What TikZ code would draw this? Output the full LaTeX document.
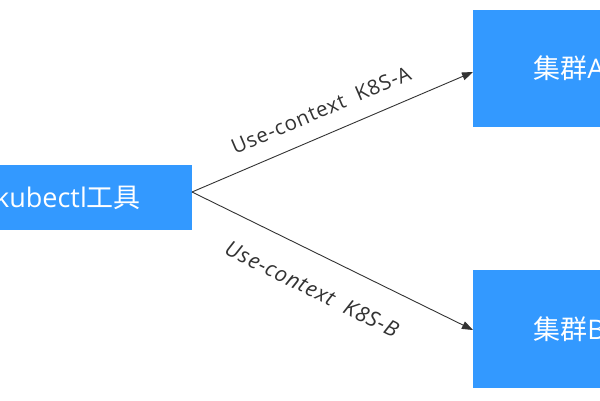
\documentclass[tikz,border=0pt]{standalone}
\usepackage{fontspec}
\setmainfont{Open Sans}
\newfontfamily\cjk{Noto Sans CJK SC}
\newfontfamily\lblfont[LetterSpace=4]{Open Sans}
\usetikzlibrary{arrows.meta}
\definecolor{boxblue}{RGB}{51,153,255}
\definecolor{ink}{RGB}{51,51,51}
\tikzset{
  bluebox/.style={fill=boxblue, draw=none, text=white, font=\fontsize{27}{31}\selectfont, inner sep=0pt},
  conn/.style={draw=ink, line width=0.9pt, -{Triangle[length=11pt,width=8pt]}},
  lbl/.style={text=ink, font=\lblfont\fontsize{20.5}{24}\selectfont, inner sep=0pt}
}
\begin{document}
\begin{tikzpicture}[x=1pt,y=-1pt]
\useasboundingbox (0,0) rectangle (600,400);
\clip (0,0) rectangle (600,400);
\fill[white] (0,0) rectangle (600,400);
\node[bluebox, minimum width=255pt, minimum height=65pt] (k) at (64.5,197.5) {};
\node[text=white, font=\fontsize{27}{31}\selectfont, inner sep=0pt] (kt) at (68,197.5) {kubectl{\cjk 工具}};
\node[bluebox, minimum width=192pt, minimum height=117pt] (a) at (569,68.5) {{\cjk 集群}A};
\node[bluebox, minimum width=192pt, minimum height=118pt] (b) at (569,329) {{\cjk 集群}B};
\coordinate (s) at (192,192);
\coordinate (ea) at (473,72);
\coordinate (eb) at (473,330);
\draw[conn] (s) -- (ea);
\draw[conn] (s) -- (eb);
\node[lbl, rotate=23.1] (la) at (321,110) {Use-context\ \ K8S-A};
\node[lbl, rotate=-26.2, font=\lblfont\fontsize{21.5}{24}\selectfont\itshape] (lb) at (312,289) {Use-context\ \ K8S-B};
\end{tikzpicture}
\end{document}
